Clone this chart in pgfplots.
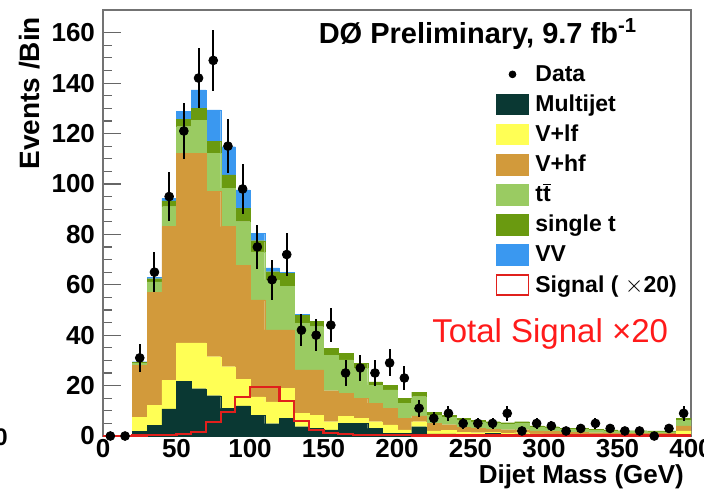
\documentclass[border=0pt]{standalone}
\usepackage{pgfplots}
\usepackage{pgfplotstable}
\pgfplotsset{compat=1.18}
\usepackage{fontspec}
\setmainfont{Liberation Sans}

\definecolor{cmj}{HTML}{0A3833}
\definecolor{cvlf}{HTML}{FFFF55}
\definecolor{cvhf}{HTML}{D29A3B}
\definecolor{ctt}{HTML}{9ACB62}
\definecolor{cst}{HTML}{6A9A10}
\definecolor{cvv}{HTML}{3A98F0}
\definecolor{csig}{HTML}{E0201C}
\definecolor{ctxt}{HTML}{FF1A1A}

\pgfplotsset{
  boxlegend/.style={legend image code/.code={\draw[##1,line width=0.9pt] (0pt,-4.5pt) rectangle (16pt,5.5pt);}},
  dotlegend/.style={legend image code/.code={\fill[black] (8pt,0.5pt) circle (1.7pt);}},
}

% background components per 10 GeV bin (bin centre)
\pgfplotstableread{
x   mj   vlf  vhf  tt   st   vv
25  1.9  5.6  20.5 0.8  0.4  0.3
35  4.2  8.0  44.9 4.0  1.3  0.5
45  10.8 11.3 61.0 7.9  2.3  1.0
55  21.7 15.2 75.3 10.5 3.0  3.1
65  18.8 18.1 75.3 13.0 4.8  7.3
75  16.0 15.5 65.5 15.2 4.6  12.6
85  11.0 16.5 55.6 15.2 5.3  11.2
95  12.0 10.5 45.3 17.2 5.3  7.3
105 8.2  7.3  38.5 19.0 4.5  3.0
115 4.9  8.6  28.6 19.8 3.3  1.5
125 7.0  12.0 23.1 17.2 5.3  0.4
135 3.7  5.3  17.2 18.5 3.3  0.2
145 3.0  5.3  17.9 17.2 2.0  0.1
155 2.4  3.3  12.3 14.1 2.7  0.1
165 5.0  2.7  9.3  13.2 2.6  0.1
175 5.0  2.0  8.0  11.9 1.9  0.1
185 3.0  2.7  7.3  7.2  1.3  0.0
195 1.1  3.3  6.6  7.3  1.9  0.0
205 1.0  1.4  4.6  6.0  2.0  0.0
215 3.7  2.0  2.3  7.6  1.8  0.0
225 0.8  1.2  3.0  3.3  1.0  0.0
235 0.8  1.4  2.3  2.9  0.9  0.0
245 0.5  1.0  2.0  2.7  0.8  0.0
255 0.5  0.8  1.7  2.6  0.7  0.0
265 1.0  0.5  1.3  2.2  0.7  0.0
275 0.3  0.7  1.5  2.2  0.6  0.0
285 0.8  0.5  1.2  2.5  0.7  0.0
295 0.3  0.5  1.2  1.5  0.5  0.0
305 0.3  0.4  1.1  1.4  0.5  0.0
315 0.2  0.4  0.9  1.1  0.4  0.0
325 0.2  0.4  0.9  1.1  0.4  0.0
335 0.2  0.3  0.8  0.9  0.4  0.0
345 0.2  0.3  0.7  0.8  0.4  0.0
355 0.1  0.3  0.6  0.8  0.3  0.0
365 0.1  0.3  0.6  0.8  0.3  0.0
375 0.1  0.3  0.6  0.7  0.3  0.0
385 0.1  0.3  0.6  0.7  0.3  0.0
395 0.5  1.5  2.0  2.2  0.8  0.0
}\bkg

% data with statistical errors
\pgfplotstableread{
x   y   e
5   0   0
15  0   0
25  31  5.57
35  65  8.06
45  95  9.75
55  121 11.0
65  142 11.92
75  149 12.21
85  115 10.72
95  98  9.90
105 75  8.66
115 62  7.87
125 72  8.49
135 42  6.48
145 40  6.32
155 44  6.63
165 25  5.00
175 27  5.20
185 25  5.00
195 29  5.39
205 23  4.80
215 11  3.32
225 7   2.65
235 9   3.00
245 5   2.24
255 5   2.24
265 5   2.24
275 9   3.00
285 2   1.41
295 5   2.24
305 4   2.00
315 2   1.41
325 3   1.73
335 5   2.24
345 3   1.73
355 2   1.41
365 2   1.41
375 0   0
385 3   1.73
395 9   3.00
}\datatab

% signal x20, value per bin (left edge), last point closes the histogram
\pgfplotstableread{
x   s
0   0.1
10  0.1
20  0.2
30  0.3
40  0.5
50  0.9
60  1.6
70  5.5
80  9.5
90  15.5
100 19.3
110 19.3
120 14.0
130 6.0
140 2.5
150 1.2
160 0.7
170 0.5
180 0.4
190 0.4
200 0.3
210 0.2
220 0.2
230 0.2
240 0.2
250 0.2
260 0.2
270 0.2
280 0.2
290 0.2
300 0.2
310 0.2
320 0.2
330 0.2
340 0.2
350 0.2
360 0.2
370 0.2
380 0.2
390 0.2
400 0.2
}\sigtab

\begin{document}
\begin{tikzpicture}
\path[use as bounding box] (-51.5pt,-26pt) rectangle (300.5pt,218pt);
\begin{axis}[
  at={(0pt,0pt)}, anchor=south west,
  scale only axis, width=294pt, height=213pt,
  xmin=0, xmax=400, ymin=0, ymax=169,
  enlargelimits=false,
  ybar stacked, bar width=10, bar shift=0pt,
  axis line style={draw=black!55, line width=0.8pt},
  tick align=inside, xtick pos=left, ytick pos=left,
  xtick={0,50,...,400}, xtick style={draw=none},
  ytick={0,20,...,160}, minor y tick num=3,
  major tick length=9pt, minor tick length=4.5pt,
  ytick style={draw=black!60, line width=0.6pt},
  /pgf/number format/assume math mode=true,
  tick label style={font=\fontsize{13}{13}\selectfont\bfseries},
  yticklabel style={xshift=-0.5pt},
  xticklabel style={yshift=2pt},
  ylabel={Events /Bin},
  ylabel style={at={(axis description cs:-0.124,1)}, anchor=east, font=\fontsize{14}{14}\selectfont\bfseries},
  xlabel={Dijet Mass (GeV)},
  xlabel style={at={(axis description cs:1,-0.111)}, anchor=base east, font=\fontsize{13}{13}\selectfont\bfseries},
  legend cell align=left,
  legend style={at={(axis description cs:0.667,0.871)}, anchor=north west, draw=none, fill=none,
    inner sep=0pt, row sep=4.1pt, column sep=3pt,
    font=\fontsize{11.5}{11.5}\selectfont\bfseries,
    nodes={inner sep=0pt, text height=8pt, text depth=2pt}},
]
\addlegendimage{dotlegend}\addlegendentry{Data}
\addlegendimage{boxlegend, fill=cmj, draw=cmj}\addlegendentry{Multijet}
\addlegendimage{boxlegend, fill=cvlf, draw=cvlf}\addlegendentry{V+lf}
\addlegendimage{boxlegend, fill=cvhf, draw=cvhf}\addlegendentry{V+hf}
\addlegendimage{boxlegend, fill=ctt, draw=ctt}\addlegendentry{t$\overline{\mbox{t}}$}
\addlegendimage{boxlegend, fill=cst, draw=cst}\addlegendentry{single t}
\addlegendimage{boxlegend, fill=cvv, draw=cvv}\addlegendentry{VV}
\addlegendimage{boxlegend, fill=white, draw=csig}\addlegendentry{Signal ( $\times$20)}

\addplot[fill=cmj, draw=cmj, line width=0.1pt, forget plot] table[x=x,y=mj]{\bkg};
\addplot[fill=cvlf, draw=cvlf, line width=0.1pt, forget plot] table[x=x,y=vlf]{\bkg};
\addplot[fill=cvhf, draw=cvhf, line width=0.1pt, forget plot] table[x=x,y=vhf]{\bkg};
\addplot[fill=ctt, draw=ctt, line width=0.1pt, forget plot] table[x=x,y=tt]{\bkg};
\addplot[fill=cst, draw=cst, line width=0.1pt, forget plot] table[x=x,y=st]{\bkg};
\addplot[fill=cvv, draw=cvv, line width=0.1pt, forget plot] table[x=x,y=vv]{\bkg};
\end{axis}

\begin{axis}[
  at={(0pt,0pt)}, anchor=south west,
  scale only axis, width=294pt, height=213pt,
  xmin=0, xmax=400, ymin=0, ymax=169,
  enlargelimits=false, hide axis, clip=false,
]
\addplot[const plot, draw=csig, line width=1.1pt] table[x=x,y=s]{\sigtab};
\addplot[only marks, mark=*, mark size=2.2pt, black,
  error bars/.cd, y dir=both, y explicit, error mark=none,
  error bar style={line width=1pt, black}]
  table[x=x, y=y, y error=e]{\datatab};
\node[anchor=base west, font=\fontsize{14.5}{14.5}\selectfont\bfseries]
  at (rel axis cs:0.355,0.9225) {DØ Preliminary, 9.7 fb\textsuperscript{-1}};
\node[anchor=base west, text=ctxt, font=\fontsize{16.5}{16.5}\selectfont]
  at (rel axis cs:0.548,0.219) {Total Signal ×20};
\end{axis}
\node[font=\fontsize{12}{12}\selectfont\bfseries] at (-51pt,-0.5pt) {0};
\end{tikzpicture}
\end{document}
